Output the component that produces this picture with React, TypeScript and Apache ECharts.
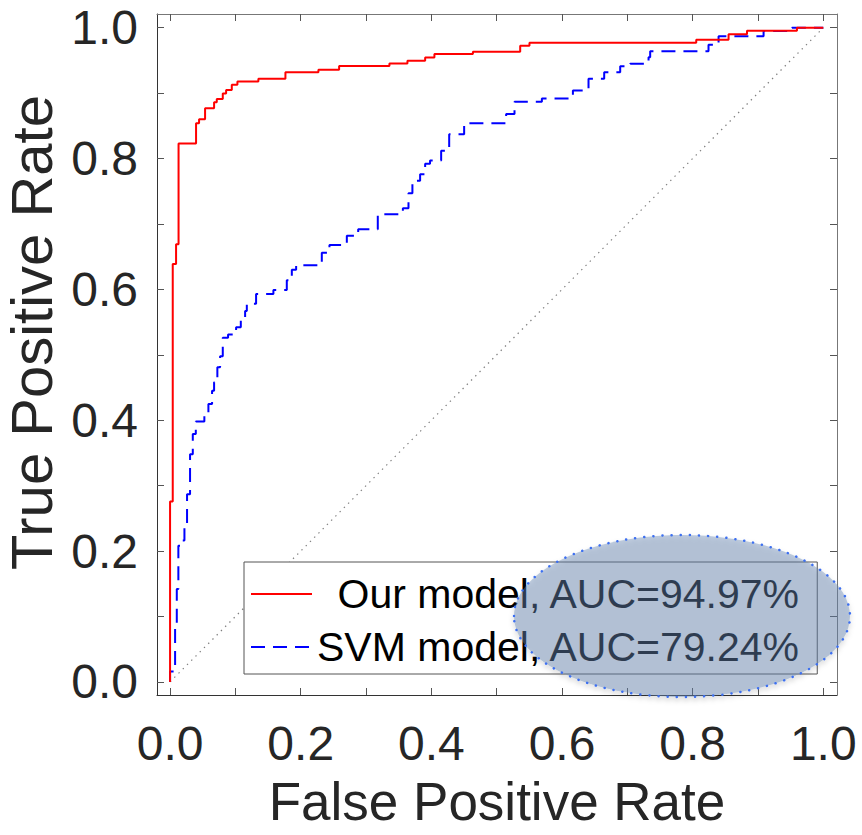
import React, { useEffect, useRef } from "react";
import * as echarts from "echarts";

const ourFpr = [0, 0, 0.0041, 0.0092, 0.013, 0.0398, 0.0444, 0.0536, 0.0674, 0.0715, 0.0807, 0.0858, 0.0945, 0.1031, 0.1352, 0.1766, 0.2271, 0.2588, 0.3358, 0.3634, 0.3905, 0.4047, 0.4636, 0.536, 0.5502, 0.8055, 0.855, 0.8832, 0.9597, 1.0];
const ourTpr = [0, 0.2757, 0.6387, 0.669, 0.823, 0.854, 0.86, 0.877, 0.886, 0.891, 0.8995, 0.9047, 0.9128, 0.9179, 0.922, 0.932, 0.9358, 0.9414, 0.9454, 0.9495, 0.9546, 0.9598, 0.9633, 0.9725, 0.977, 0.9817, 0.99, 0.9954, 1.0, 1.0];

const svmFpr = [0, 0, 0.0077, 0.0103, 0.0127, 0.0188, 0.022, 0.026, 0.0306, 0.0348, 0.0394, 0.0525, 0.0587, 0.0643, 0.0674, 0.0724, 0.0766, 0.0807, 0.0888, 0.1011, 0.1083, 0.1149, 0.1175, 0.1317, 0.1582, 0.1787, 0.1864, 0.193, 0.2323, 0.244, 0.2706, 0.288, 0.318, 0.3564, 0.365, 0.371, 0.3828, 0.3905, 0.398, 0.415, 0.4273, 0.4502, 0.5145, 0.5273, 0.5692, 0.6167, 0.6406, 0.6646, 0.6891, 0.7044, 0.7325, 0.735, 0.8243, 0.8397, 0.9086, 0.952, 1.0];
const svmTpr = [0, 0.016, 0.083, 0.142, 0.208, 0.216, 0.241, 0.287, 0.348, 0.379, 0.398, 0.409, 0.425, 0.445, 0.458, 0.481, 0.498, 0.526, 0.531, 0.542, 0.555, 0.567, 0.578, 0.593, 0.599, 0.614, 0.63, 0.637, 0.656, 0.668, 0.682, 0.692, 0.715, 0.724, 0.747, 0.766, 0.776, 0.792, 0.797, 0.812, 0.837, 0.854, 0.868, 0.887, 0.892, 0.904, 0.922, 0.932, 0.941, 0.945, 0.955, 0.964, 0.974, 0.987, 0.995, 1.0, 1.0];

const chanceLine = [[0, 0], [1, 1]];
const labelTicks = [0, 0.2, 0.4, 0.6, 0.8, 1.0];
const minorTicks = [0, 0.1, 0.2, 0.3, 0.4, 0.5, 0.6, 0.7, 0.8, 0.9, 1.0];
const seriesNames = ["Our model, AUC=94.97%", "SVM model, AUC=79.24%"];

const FONT = "'Liberation Sans', Arial, Helvetica, sans-serif";
const TEXT = "#262626";

export default function App() {
  const ref = useRef<HTMLDivElement>(null);
  useEffect(() => {
    if (!ref.current) return;
    const chart = echarts.init(ref.current, null, { renderer: "svg" });
    const ourData = ourFpr.map((f, i) => [f, ourTpr[i]]);
    const svmData = svmFpr.map((f, i) => [f, svmTpr[i]]);
    const axisBase = {
      type: "value" as const,
      min: -0.02,
      max: 1.021,
      splitLine: { show: false },
    };
    const tick = {
      show: true,
      inside: true,
      length: 7,
      customValues: minorTicks,
      lineStyle: { color: "#555", width: 1 },
    };
    chart.setOption({
      animation: false,
      backgroundColor: "#fff",
      grid: { left: 157, right: 25, top: 14, bottom: 140, containLabel: false, outerBoundsMode: "none" },
      xAxis: [
        {
          ...axisBase,
          position: "bottom",
          name: "False Positive Rate",
          nameLocation: "middle",
          nameGap: 80,
          nameTextStyle: { fontSize: 53, lineHeight: 53, color: TEXT, fontFamily: FONT },
          axisLine: { show: true, onZero: false, lineStyle: { color: "#333", width: 1 } },
          axisTick: tick,
          axisLabel: {
            show: true,
            customValues: labelTicks,
            margin: 24,
            fontSize: 48,
            color: TEXT,
            fontFamily: FONT,
            formatter: (v: number) => v.toFixed(1),
          },
        },
        {
          ...axisBase,
          position: "top",
          axisLine: { show: true, onZero: false, lineStyle: { color: "#777", width: 1 } },
          axisTick: tick,
          axisLabel: { show: false },
        },
      ],
      yAxis: [
        {
          ...axisBase,
          position: "left",
          name: "True Positive Rate",
          nameLocation: "middle",
          nameGap: 94,
          nameTextStyle: { fontSize: 58, lineHeight: 58, color: TEXT, fontFamily: FONT, padding: [0, 0, 0, 44] },
          axisLine: { show: true, onZero: false, lineStyle: { color: "#333", width: 1 } },
          axisTick: tick,
          axisLabel: {
            show: true,
            customValues: labelTicks,
            margin: 19,
            fontSize: 48,
            color: TEXT,
            fontFamily: FONT,
            formatter: (v: number) => v.toFixed(1),
          },
        },
        {
          ...axisBase,
          position: "right",
          axisLine: { show: true, onZero: false, lineStyle: { color: "#777", width: 1 } },
          axisTick: tick,
          axisLabel: { show: false },
        },
      ],
      legend: {
        data: seriesNames,
        orient: "vertical",
        left: 244,
        top: 562,
        padding: [10, 16, 5, 6],
        itemGap: 9,
        itemWidth: 61,
        itemHeight: 14,
        backgroundColor: "#fff",
        borderColor: "#555",
        borderWidth: 1,
        borderRadius: 0,
        selectedMode: false,
        itemStyle: { opacity: 0 },
        formatter: (name: string) => (name === seriesNames[0] ? "\u2002" + name : name),
        textStyle: { fontSize: 41, lineHeight: 44, color: "#000", fontFamily: FONT },
      },
      series: [
        {
          name: "chance",
          type: "line",
          data: chanceLine,
          symbol: "none",
          silent: true,
          lineStyle: { color: "#7f7f7f", width: 1.2, type: [1.4, 4.6] },
          z: 1,
        },
        {
          name: seriesNames[0],
          type: "line",
          data: ourData,
          step: "end",
          symbol: "none",
          itemStyle: { color: "#ff0000" },
          lineStyle: { color: "#ff0000", width: 2 },
          z: 3,
        },
        {
          name: seriesNames[1],
          type: "line",
          data: svmData,
          step: "end",
          symbol: "none",
          itemStyle: { color: "#0000ff" },
          lineStyle: { color: "#0000ff", width: 2, type: [14, 8] },
          z: 2,
        },
      ],
      graphic: [
        {
          type: "ellipse",
          z: 100,
          silent: true,
          shape: { cx: 682, cy: 616, rx: 168, ry: 81 },
          style: {
            fill: "rgba(99,133,177,0.42)",
            stroke: "#3d6ff0",
            lineWidth: 2.5,
            lineDash: [0.1, 9],
            lineCap: "round",
            shadowBlur: 5,
            shadowColor: "rgba(0,0,0,0.25)",
            shadowOffsetY: 3,
          },
        },
      ],
    });
    return () => chart.dispose();
  }, []);
  return (
    <div
      ref={ref}
      style={{ position: "fixed", left: 0, top: 0, width: 862, height: 835 }}
    />
  );
}
